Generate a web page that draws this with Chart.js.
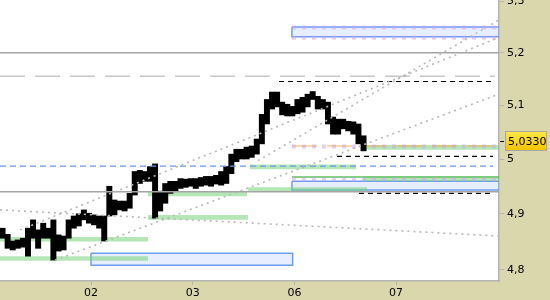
<!DOCTYPE html>
<html>
<head>
<meta charset="utf-8">
<script src="https://cdn.jsdelivr.net/npm/chart.js@4/dist/chart.umd.min.js"></script>
<style>
  html, body { margin: 0; padding: 0; background: #d9d7ab; }
  canvas { display: block; }
</style>
</head>
<body>
<canvas id="chart" width="550" height="300"></canvas>
<script>
// x unit = trading day (02 -> 1, 03 -> 2, 06 -> 3, 07 -> 4)
const DAY_POS = [1, 2, 3, 4];
const DAY_LABELS = ['02', '03', '06', '07'];
const X_MIN = 0.105, X_MAX = 5.012;
const Y_TICKS = [4.8, 4.9, 5, 5.1, 5.2, 5.3];
const Y_MIN = 4.7824, Y_MAX = 5.302;

// intraday bars, one every PRICE_STEP day starting at PRICE_START
const PRICE_START = 0.13;
const PRICE_STEP = 0.05;
const PRICE_HIGH = [
  4.874, 4.863, 4.851, 4.853, 4.856, 4.874, 4.889, 4.871, 4.883, 4.874,
  4.889, 4.862, 4.860, 4.889, 4.896, 4.900, 4.907, 4.901, 4.898, 4.896,
  4.896, 4.950, 4.925, 4.923, 4.923, 4.937, 4.977, 4.979, 4.977, 4.986,
  4.991, 4.941, 4.955, 4.959, 4.959, 4.964, 4.963, 4.964, 4.964, 4.966,
  4.968, 4.968, 4.970, 4.977, 4.986, 5.009, 5.018, 5.018, 5.022, 5.024,
  5.037, 5.083, 5.111, 5.125, 5.125, 5.106, 5.102, 5.098, 5.111, 5.115,
  5.121, 5.126, 5.117, 5.111, 5.106, 5.078, 5.074, 5.074, 5.070, 5.069,
  5.065, 5.043
];
const PRICE_LOW = [
  4.856, 4.838, 4.835, 4.838, 4.840, 4.824, 4.856, 4.838, 4.856, 4.856,
  4.817, 4.833, 4.835, 4.856, 4.874, 4.878, 4.889, 4.883, 4.880, 4.874,
  4.851, 4.896, 4.898, 4.907, 4.905, 4.910, 4.934, 4.955, 4.959, 4.959,
  4.892, 4.905, 4.919, 4.937, 4.941, 4.946, 4.948, 4.950, 4.946, 4.950,
  4.952, 4.950, 4.954, 4.952, 4.955, 4.973, 4.995, 5.000, 5.000, 5.003,
  5.009, 5.028, 5.065, 5.093, 5.097, 5.082, 5.080, 5.080, 5.084, 5.087,
  5.097, 5.111, 5.093, 5.093, 5.065, 5.046, 5.046, 5.056, 5.052, 5.046,
  5.028, 5.015
];
const LAST_PRICE = 5.033;

// levels: [value, from day, to day]
const SOLID_LEVELS = [[5.2, X_MIN, X_MAX], [4.94, X_MIN, X_MAX]];
const GRAY_DASH_LEVELS = [[5.155, X_MIN, 4.972]];
const BLACK_DASH_LEVELS = [[5.145, 2.849, 4.953], [5.005, 3.419, 4.953], [4.937, 3.635, 4.953]];
const BLUE_DASH_LEVELS = [[4.987, X_MIN, 4.953]];
const ORANGE_DASH_LEVELS = [[5.024, 2.976, X_MAX]];
const GREEN_LINE_LEVELS = [[4.967, 2.976, X_MAX]];
const PURPLE_LEVELS = [[5.2487, 2.976, X_MAX], [5.2286, 2.976, X_MAX], [5.023, 2.976, X_MAX], [4.963, 2.976, X_MAX]];

// zones / boxes: [top, bottom, from day, to day]
const GREEN_ZONES = [
  [4.858, 4.850, X_MIN, 1.56], [4.824, 4.816, X_MIN, 1.56],
  [4.941, 4.932, 1.56, 2.534], [4.898, 4.889, 1.56, 2.544],
  [4.948, 4.941, 2.544, 3.714], [4.990, 4.981, 2.563, 3.606],
  [5.026, 5.017, 3.675, X_MAX], [4.968, 4.959, 3.675, X_MAX]
];
const BOXES = [[5.2497, 5.2305, 2.976, X_MAX], [4.959, 4.943, 2.976, X_MAX], [4.829, 4.808, 1.0, 2.983]];

// trend lines: [from day, from value, to day, to value]
const TRENDS = [
  [X_MIN, 4.907, X_MAX, 4.860],
  [0.646, 4.817, X_MAX, 5.121],
  [0.302, 4.871, X_MAX, 5.229],
  [2.642, 4.997, X_MAX, 5.263]
];

const AXIS_BG = '#d9d7ab';
const FONT = { family: 'DejaVu Sans', size: 11 };

const datasets = [];
function lineDs(data, style, order) {
  datasets.push(Object.assign({ type: 'line', data, pointRadius: 0, borderCapStyle: 'butt', fill: false, order }, style));
}
function seg(x0, v0, x1, v1) { return [{ x: x0, y: v0 }, { x: x1, y: v1 }]; }

BOXES.forEach(([top, bot, x0, x1]) => {
  lineDs(seg(x0, top, x1, top), { fill: { value: bot }, backgroundColor: '#e6eeff', borderWidth: 0, borderColor: 'transparent' }, 50);
  lineDs([{ x: x0, y: top }, { x: x1, y: top }, { x: x1, y: bot }, { x: x0, y: bot }, { x: x0, y: top }],
    { borderColor: '#6e9cf5', borderWidth: 1.5 }, 45);
});
GREEN_ZONES.forEach(([top, bot, x0, x1]) => {
  lineDs(seg(x0, top, x1, top), { fill: { value: bot }, backgroundColor: 'rgba(120,210,120,0.55)', borderWidth: 0, borderColor: 'transparent' }, 40);
});
GREEN_LINE_LEVELS.forEach(([v, x0, x1]) => lineDs(seg(x0, v, x1, v), { borderColor: '#5cc05c', borderWidth: 1.5 }, 36));
ORANGE_DASH_LEVELS.forEach(([v, x0, x1]) => lineDs(seg(x0, v, x1, v), { borderColor: '#f2b24a', borderWidth: 1.2, borderDash: [25, 10] }, 35));
PURPLE_LEVELS.forEach(([v, x0, x1]) => lineDs(seg(x0, v, x1, v), { borderColor: 'rgba(205,160,235,0.5)', borderWidth: 4, borderDash: [4, 6] }, 34));

datasets.push({
  type: 'bar',
  data: PRICE_HIGH.map((h, i) => ({ x: PRICE_START + i * PRICE_STEP, y: [PRICE_LOW[i], h] })),
  backgroundColor: '#000',
  borderWidth: 0,
  barThickness: 5.3,
  grouped: false,
  order: 20
});

SOLID_LEVELS.forEach(([v, x0, x1]) => lineDs(seg(x0, v, x1, v), { borderColor: '#a4a4a4', borderWidth: 1.5 }, 10));
GRAY_DASH_LEVELS.forEach(([v, x0, x1]) => lineDs(seg(x0, v, x1, v), { borderColor: '#c8c8c8', borderWidth: 1.3, borderDash: [25, 10] }, 10));
BLUE_DASH_LEVELS.forEach(([v, x0, x1]) => lineDs(seg(x0, v, x1, v), { borderColor: '#6a96ee', borderWidth: 1.2, borderDash: [6, 4] }, 10));
BLACK_DASH_LEVELS.forEach(([v, x0, x1]) => lineDs(seg(x0, v, x1, v), { borderColor: '#000', borderWidth: 1.2, borderDash: [5, 4] }, 10));
TRENDS.forEach(([x0, v0, x1, v1]) => lineDs(seg(x0, v0, x1, v1), { borderColor: '#b8b8b8', borderWidth: 1.6, borderDash: [2, 4] }, 5));

const framePlugin = {
  id: 'frame',
  beforeDraw(chart) {
    const { ctx, chartArea: a } = chart;
    ctx.save();
    ctx.fillStyle = AXIS_BG;
    ctx.fillRect(0, 0, chart.width, chart.height);
    ctx.fillStyle = '#fff';
    ctx.fillRect(a.left, a.top, a.right - a.left, a.bottom - a.top);
    ctx.restore();
  },
  afterDraw(chart) {
    // last price tag on the right axis
    const { ctx, chartArea: a } = chart;
    const y = Math.round(chart.scales.y.getPixelForValue(LAST_PRICE)) + 0.5;
    ctx.save();
    ctx.strokeStyle = '#000';
    ctx.lineWidth = 1;
    ctx.beginPath();
    ctx.moveTo(a.right + 1, y);
    ctx.lineTo(a.right + 5, y);
    ctx.stroke();
    const bx = a.right + 6, bw = 42, by = y - 10.5, bh = 20;
    const g = ctx.createLinearGradient(0, by, 0, by + bh);
    g.addColorStop(0, '#ffe94a');
    g.addColorStop(1, '#f3c200');
    ctx.fillStyle = g;
    ctx.fillRect(bx, by, bw, bh);
    ctx.strokeStyle = '#a8a8a0';
    ctx.strokeRect(bx + 0.5, by + 0.5, bw - 1, bh - 1);
    ctx.fillStyle = '#000';
    ctx.font = '11px "DejaVu Sans"';
    ctx.textBaseline = 'middle';
    ctx.fillText(LAST_PRICE.toFixed(4).replace('.', ','), bx + 3, y + 0.5);
    ctx.restore();
  }
};

new Chart(document.getElementById('chart'), {
  type: 'line',
  data: { datasets },
  options: {
    responsive: false,
    animation: false,
    layout: { padding: 0 },
    plugins: { legend: { display: false }, tooltip: { enabled: false } },
    scales: {
      x: {
        type: 'linear',
        min: X_MIN,
        max: X_MAX,
        offset: false,
        afterBuildTicks: (s) => { s.ticks = DAY_POS.map((v) => ({ value: v })); },
        afterFit: (s) => { s.height = 19; s.paddingLeft = 0; s.paddingRight = 0; },
        grid: { drawOnChartArea: false, drawTicks: true, tickLength: 4, color: '#b4b4b4', offset: false },
        border: { display: true, color: '#b4b4b4', width: 1.5 },
        ticks: { autoSkip: false, maxRotation: 0, padding: 2, color: '#000', font: FONT, callback: (v, i) => DAY_LABELS[i] }
      },
      y: {
        type: 'logarithmic',
        position: 'right',
        min: Y_MIN,
        max: Y_MAX,
        afterBuildTicks: (s) => { s.ticks = Y_TICKS.map((v) => ({ value: v })); },
        afterFit: (s) => { s.width = 51; s.paddingTop = 0; s.paddingBottom = 0; },
        grid: { drawOnChartArea: false, drawTicks: true, tickLength: 5, color: '#b4b4b4' },
        border: { display: true, color: '#b4b4b4', width: 1.5 },
        ticks: { autoSkip: false, padding: 3, color: '#000', font: FONT, callback: (v) => String(v).replace('.', ',') }
      }
    }
  },
  plugins: [framePlugin]
});
</script>
</body>
</html>
